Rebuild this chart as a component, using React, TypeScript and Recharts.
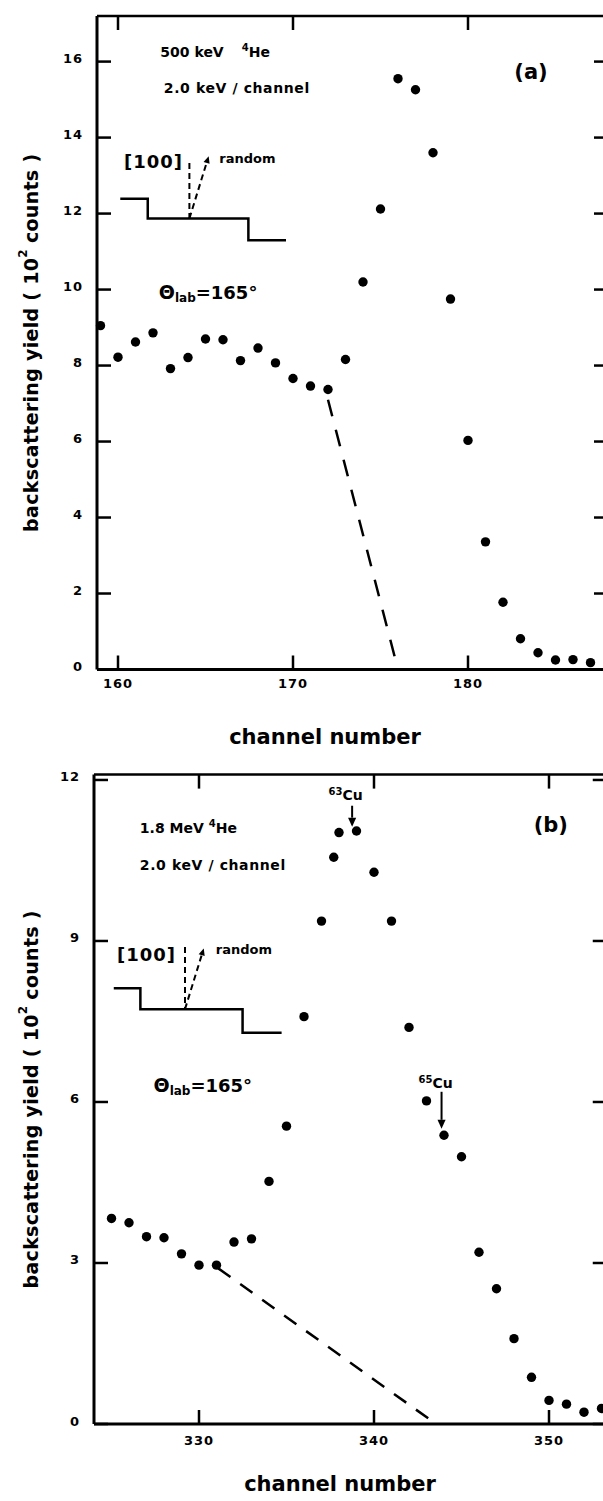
import React from 'react';
import {
  ComposedChart,
  Scatter,
  Line,
  XAxis,
  YAxis,
  ReferenceLine,
  ReferenceDot,
} from 'recharts';

const FONT = '"DejaVu Sans", "Liberation Sans", Arial, sans-serif';
const INK = '#000';
const CHART_W = 620;
const TICK_LEN = 14;

// ---- (a) 500 keV 4He, 2.0 keV / channel ----
const channelsA = [159, 160, 161, 162, 163, 164, 165, 166, 167, 168, 169, 170, 171, 172, 173, 174, 175, 176, 177, 178, 179, 180, 181, 182, 183, 184, 185, 186, 187];
const yieldA = [9.05, 8.22, 8.62, 8.86, 7.92, 8.21, 8.7, 8.68, 8.13, 8.46, 8.07, 7.66, 7.46, 7.37, 8.16, 10.2, 12.12, 15.55, 15.26, 13.6, 9.75, 6.03, 3.36, 1.77, 0.81, 0.44, 0.25, 0.26, 0.18];
// random / [100] reference trace
const randomChA = [160.13, 161.7, 167.45, 169.6];
const randomYieldA = [12.39, 11.87, 11.3, 11.3];
// extrapolated edge (dashed)
const edgeChA = [172, 176];
const edgeYieldA = [7.1, 0];
const xTicksA = [160, 170, 180];
const yTicksA = [0, 2, 4, 6, 8, 10, 12, 14, 16];

// ---- (b) 1.8 MeV 4He, 2.0 keV / channel ----
const channelsB = [325, 326, 327, 328, 329, 330, 331, 332, 333, 334, 335, 336, 337, 337.7, 338, 339, 340, 341, 342, 343, 344, 345, 346, 347, 348, 349, 350, 351, 352, 353];
const yieldB = [3.83, 3.75, 3.49, 3.47, 3.17, 2.96, 2.96, 3.39, 3.45, 4.52, 5.55, 7.59, 9.37, 10.56, 11.02, 11.05, 10.28, 9.37, 7.39, 6.02, 5.38, 4.98, 3.2, 2.52, 1.59, 0.87, 0.44, 0.37, 0.22, 0.29];
const randomChB = [325.13, 326.65, 332.49, 334.72];
const randomYieldB = [8.12, 7.73, 7.29, 7.29];
const edgeChB = [331.1, 343.55];
const edgeYieldB = [2.9, 0];
const xTicksB = [330, 340, 350];
const yTicksB = [0, 3, 6, 9, 12];

const pairs = (xs: number[], ys: number[]) => xs.map((x, i) => ({ x, y: ys[i] }));

type Note = {
  at: [number, number];
  content: React.ReactNode;
  anchor?: 'start' | 'middle' | 'end';
  size?: number;
  spacing?: number;
};
type Arrow = { from: [number, number]; to: [number, number]; dashed?: boolean; head?: number };

const dotShape = (p: any) => <circle cx={p.cx} cy={p.cy} r={4.7} fill={INK} />;

const noteShape = (n: Note) => (p: any) => (
  <text
    x={p.cx}
    y={p.cy}
    textAnchor={n.anchor ?? 'start'}
    dominantBaseline="central"
    fontFamily={FONT}
    fontWeight="bold"
    fontSize={n.size ?? 14}
    letterSpacing={n.spacing ?? 0}
    fill={INK}
  >
    {n.content}
  </text>
);

const arrowShape = (a: Arrow) => (p: any) => {
  const { x1, y1, x2, y2 } = p;
  const dash = a.dashed ? '6 4' : undefined;
  const head = a.head ?? 0;
  if (!head) {
    return <line x1={x1} y1={y1} x2={x2} y2={y2} stroke={INK} strokeWidth={2} strokeDasharray={dash} />;
  }
  const len = Math.hypot(x2 - x1, y2 - y1) || 1;
  const ux = (x2 - x1) / len;
  const uy = (y2 - y1) / len;
  const bx = x2 - ux * head;
  const by = y2 - uy * head;
  const hw = head * 0.45;
  return (
    <g>
      <line x1={x1} y1={y1} x2={bx} y2={by} stroke={INK} strokeWidth={2} strokeDasharray={dash} />
      <polygon
        points={`${x2},${y2} ${bx - uy * hw},${by + ux * hw} ${bx + uy * hw},${by - ux * hw}`}
        fill={INK}
      />
    </g>
  );
};

const labelFont = {
  fontFamily: FONT,
  fontWeight: 'bold' as const,
  fontSize: 13,
  fill: INK,
  letterSpacing: 1,
};

// bottom tick: label below the axis, inward marks on the bottom and top sides of the frame
const makeXTick = (plotTop: number, margin: number) => (p: any) => {
  const bottom = p.y - margin;
  return (
    <g>
      <line x1={p.x} x2={p.x} y1={bottom} y2={bottom - TICK_LEN} stroke={INK} strokeWidth={2.5} />
      <line x1={p.x} x2={p.x} y1={plotTop} y2={plotTop + TICK_LEN} stroke={INK} strokeWidth={2.5} />
      <text x={p.x} y={p.y} textAnchor="middle" dominantBaseline="central" {...labelFont}>
        {p.payload.value}
      </text>
    </g>
  );
};

// left tick: label left of the axis, inward marks on the left and right sides of the frame
const makeYTick = (plotRight: number, margin: number) => (p: any) => {
  const left = p.x + margin;
  return (
    <g>
      <line x1={left} x2={left + TICK_LEN} y1={p.y} y2={p.y} stroke={INK} strokeWidth={2.5} />
      <line x1={plotRight - TICK_LEN} x2={plotRight} y1={p.y} y2={p.y} stroke={INK} strokeWidth={2.5} />
      <text x={p.x} y={p.y - 3} textAnchor="end" dominantBaseline="central" {...labelFont}>
        {p.payload.value}
      </text>
    </g>
  );
};

const xTitle = (shift: number, drop: number) => (p: any) => {
  const vb = p.viewBox;
  return (
    <text
      x={vb.x + vb.width / 2 + shift}
      y={vb.y + drop}
      textAnchor="middle"
      dominantBaseline="central"
      fontFamily={FONT}
      fontWeight="bold"
      fontSize={21}
      fill={INK}
    >
      channel number
    </text>
  );
};

const yTitle = (centerX: number) => (p: any) => {
  const vb = p.viewBox;
  const cx = vb.x + centerX;
  const cy = vb.y + vb.height / 2;
  return (
    <text
      x={cx}
      y={cy}
      transform={`rotate(-90 ${cx} ${cy})`}
      textAnchor="middle"
      dominantBaseline="central"
      fontFamily={FONT}
      fontWeight="bold"
      fontSize={19}
      letterSpacing={0.3}
      fill={INK}
    >
      backscattering yield ( 10
      <tspan dy={-8} fontSize={12}>2</tspan>
      <tspan dy={8} dx={6}>counts )</tspan>
    </text>
  );
};

const thetaLabel = (
  <>
    <tspan fontSize={19}>Θ</tspan>
    <tspan fontSize={12} dy={6}>lab</tspan>
    <tspan fontSize={18} dy={-6}>=165°</tspan>
  </>
);

type PanelProps = {
  top: number;
  height: number;
  margin: { top: number; right: number; bottom: number; left: number };
  yAxisWidth: number;
  xDomain: [number, number];
  yDomain: [number, number];
  xTicks: number[];
  yTicks: number[];
  points: { x: number; y: number }[];
  random: { x: number; y: number }[];
  edge: { x: number; y: number }[];
  edgeDash: string;
  notes: Note[];
  arrows: Arrow[];
  titleShift: number;
  titleDrop: number;
  xTickMargin: number;
};

function Panel(props: PanelProps) {
  const {
    top, height, margin, yAxisWidth, xDomain, yDomain, xTicks, yTicks, points, random, edge,
    edgeDash, notes, arrows, titleShift, titleDrop, xTickMargin,
  } = props;
  const yTickMargin = 14;
  const plotRight = CHART_W - margin.right;
  return (
    <div style={{ position: 'absolute', left: 0, top, width: CHART_W, height }}>
      <ComposedChart width={CHART_W} height={height} margin={margin}>
        <XAxis xAxisId="x" dataKey="x" type="number" domain={xDomain} ticks={xTicks} height={30}
          tickLine={false} tickSize={0} tickMargin={xTickMargin}
          tick={makeXTick(margin.top, xTickMargin)}
          axisLine={{ stroke: INK, strokeWidth: 3 }}
          label={{ content: xTitle(titleShift, titleDrop) }} />
        <YAxis yAxisId="y" dataKey="y" type="number" domain={yDomain} ticks={yTicks} width={yAxisWidth}
          tickLine={false} tickSize={0} tickMargin={yTickMargin}
          tick={makeYTick(plotRight, yTickMargin)}
          axisLine={{ stroke: INK, strokeWidth: 3 }}
          label={{ content: yTitle(31) }} />

        {/* top and right sides of the frame */}
        <ReferenceLine xAxisId="x" yAxisId="y" y={yDomain[1]} stroke={INK} strokeWidth={2.5} ifOverflow="visible" />
        <ReferenceLine xAxisId="x" yAxisId="y" x={xDomain[1]} stroke={INK} strokeWidth={2.5} ifOverflow="visible" />

        <Line xAxisId="x" yAxisId="y" data={random} dataKey="y" type="stepAfter" stroke={INK}
          strokeWidth={2.5} dot={false} activeDot={false} isAnimationActive={false} />
        <Line xAxisId="x" yAxisId="y" data={edge} dataKey="y" type="linear" stroke={INK}
          strokeWidth={2.5} strokeDasharray={edgeDash} dot={false} activeDot={false} isAnimationActive={false} />

        {arrows.map((a, i) => (
          <ReferenceLine key={`arrow-${i}`} xAxisId="x" yAxisId="y" ifOverflow="visible"
            segment={[{ x: a.from[0], y: a.from[1] }, { x: a.to[0], y: a.to[1] }]}
            shape={arrowShape(a)} />
        ))}
        {notes.map((n, i) => (
          <ReferenceDot key={`note-${i}`} xAxisId="x" yAxisId="y" ifOverflow="visible"
            x={n.at[0]} y={n.at[1]} r={0} shape={noteShape(n)} />
        ))}

        <Scatter xAxisId="x" yAxisId="y" data={points} shape={dotShape} isAnimationActive={false} />
      </ComposedChart>
    </div>
  );
}

const notesA: Note[] = [
  {
    at: [162.42, 16.26],
    content: (
      <>
        <tspan>500 keV</tspan>
        <tspan dx={18} dy={-5} fontSize={10}>4</tspan>
        <tspan dy={5}>He</tspan>
      </>
    ),
  },
  { at: [162.62, 15.3], content: '2.0 keV / channel', spacing: 0.6 },
  { at: [183.6, 15.73], content: '(a)', anchor: 'middle', size: 21 },
  { at: [160.34, 13.36], content: '[100]', size: 18, spacing: 1 },
  { at: [165.79, 13.45], content: 'random', size: 13 },
  { at: [162.33, 9.94], content: thetaLabel },
];
const arrowsA: Arrow[] = [
  { from: [164.08, 13.33], to: [164.08, 11.87], dashed: true },
  { from: [164.08, 11.87], to: [165.18, 13.51], dashed: true, head: 7 },
];

const notesB: Note[] = [
  {
    at: [338.38, 11.72],
    anchor: 'middle',
    content: (
      <>
        <tspan dy={-4} fontSize={10}>63</tspan>
        <tspan dy={4} fontSize={14}>Cu</tspan>
      </>
    ),
  },
  {
    at: [326.62, 11.1],
    content: (
      <>
        <tspan>1.8 MeV</tspan>
        <tspan dx={5} dy={-5} fontSize={10}>4</tspan>
        <tspan dy={5}>He</tspan>
      </>
    ),
  },
  { at: [326.62, 10.42], content: '2.0 keV / channel', spacing: 0.6 },
  { at: [350.1, 11.16], content: '(b)', anchor: 'middle', size: 21 },
  { at: [325.31, 8.74], content: '[100]', size: 18, spacing: 1 },
  { at: [330.96, 8.84], content: 'random', size: 13 },
  { at: [327.4, 6.32], content: thetaLabel },
  {
    at: [343.52, 6.35],
    anchor: 'middle',
    content: (
      <>
        <tspan dy={-4} fontSize={10}>65</tspan>
        <tspan dy={4} fontSize={14}>Cu</tspan>
      </>
    ),
  },
];
const arrowsB: Arrow[] = [
  { from: [329.2, 8.89], to: [329.2, 7.73], dashed: true },
  { from: [329.2, 7.73], to: [330.27, 8.86], dashed: true, head: 7 },
  { from: [338.75, 11.52], to: [338.75, 11.13], head: 9 },
  { from: [343.86, 6.19], to: [343.86, 5.5], head: 9 },
];

export default function App() {
  return (
    <div
      style={{
        position: 'absolute',
        left: 0,
        top: 0,
        width: 603,
        height: 1501,
        overflow: 'hidden',
        background: '#fff',
      }}
    >
      <Panel
        top={0}
        height={760}
        margin={{ top: 16, right: 12, bottom: 60.5, left: 0 }}
        yAxisWidth={97}
        xDomain={[158.8, 188]}
        yDomain={[0, 17.2]}
        xTicks={xTicksA}
        yTicks={yTicksA}
        points={pairs(channelsA, yieldA)}
        random={pairs(randomChA, randomYieldA)}
        edge={pairs(edgeChA, edgeYieldA)}
        edgeDash="17 14"
        notes={notesA}
        arrows={arrowsA}
        titleShift={-27.5}
        titleDrop={67.5}
        xTickMargin={13.5}
      />
      <Panel
        top={760}
        height={741}
        margin={{ top: 14.6, right: 13.25, bottom: 47, left: 0 }}
        yAxisWidth={94}
        xDomain={[324, 353.3]}
        yDomain={[0, 12.1]}
        xTicks={xTicksB}
        yTicks={yTicksB}
        points={pairs(channelsB, yieldB)}
        random={pairs(randomChB, randomYieldB)}
        edge={pairs(edgeChB, edgeYieldB)}
        edgeDash="15 12"
        notes={notesB}
        arrows={arrowsB}
        titleShift={-10.4}
        titleDrop={60}
        xTickMargin={16}
      />
    </div>
  );
}
